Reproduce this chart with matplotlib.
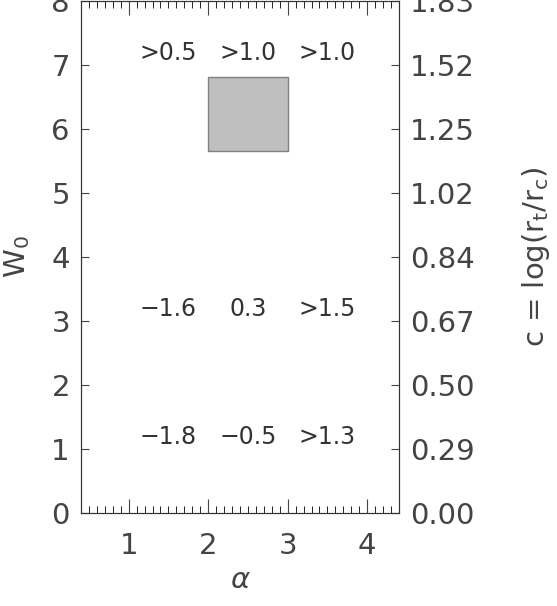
import matplotlib.pyplot as plt
from matplotlib.ticker import MultipleLocator
from matplotlib.patches import Rectangle

# Datos
alpha_cols = [1.5, 2.5, 3.5]
w0_rows = [7, 3, 1]
valores = [['>0.5', '>1.0', '>1.0'],
           ['\u22121.6', '0.3', '>1.5'],
           ['\u22121.8', '\u22120.5', '>1.3']]
w0_ticks = [0, 1, 2, 3, 4, 5, 6, 7, 8]
c_labels = ['0.00', '0.29', '0.50', '0.67', '0.84', '1.02', '1.25', '1.52', '1.83']
caja_alpha = (2.0, 3.0)
caja_w0 = (5.66, 6.82)

plt.rcParams['font.family'] = 'DejaVu Sans'
fig = plt.figure(figsize=(5.57, 6.06), dpi=100)
ax = fig.add_axes([0.1454, 0.1535, 0.5709, 0.8445])

ax.add_patch(Rectangle((caja_alpha[0], caja_w0[0]), caja_alpha[1] - caja_alpha[0],
                       caja_w0[1] - caja_w0[0], facecolor='#bfbfbf',
                       edgecolor='#808080', lw=1))

for fila, y in zip(valores, w0_rows):
    for txt, x in zip(fila, alpha_cols):
        ax.text(x, y, txt, ha='center', va='bottom', fontsize=17, color='#333333')

ax.set_xlim(0.4, 4.4)
ax.set_ylim(0, 8)
ax.set_xticks([1, 2, 3, 4])
ax.xaxis.set_minor_locator(MultipleLocator(0.1))
ax.set_yticks(w0_ticks)
ax.tick_params(axis='x', which='major', direction='in', length=10, top=True,
               labelsize=21, pad=14, colors='#444444')
ax.tick_params(axis='x', which='minor', direction='in', length=5, top=True)
ax.tick_params(axis='y', which='major', direction='in', length=6,
               labelsize=21, pad=8, colors='#444444')
ax.set_xlabel(r'$\alpha$', fontsize=21, color='#444444')
ax.set_ylabel(r'W$_\mathrm{0}$', fontsize=21, color='#444444', labelpad=14)

ax2 = ax.twinx()
ax2.set_ylim(0, 8)
ax2.set_yticks(w0_ticks)
ax2.set_yticklabels(c_labels)
ax2.tick_params(axis='y', direction='in', length=6, labelsize=21, pad=8,
                colors='#444444')
ax2.set_ylabel(r'c = log(r$_\mathrm{t}$/r$_\mathrm{c}$)', fontsize=21,
               color='#444444', labelpad=32)

for a in (ax, ax2):
    for s in a.spines.values():
        s.set_color('#333333')

plt.savefig('out.png', dpi=100)
